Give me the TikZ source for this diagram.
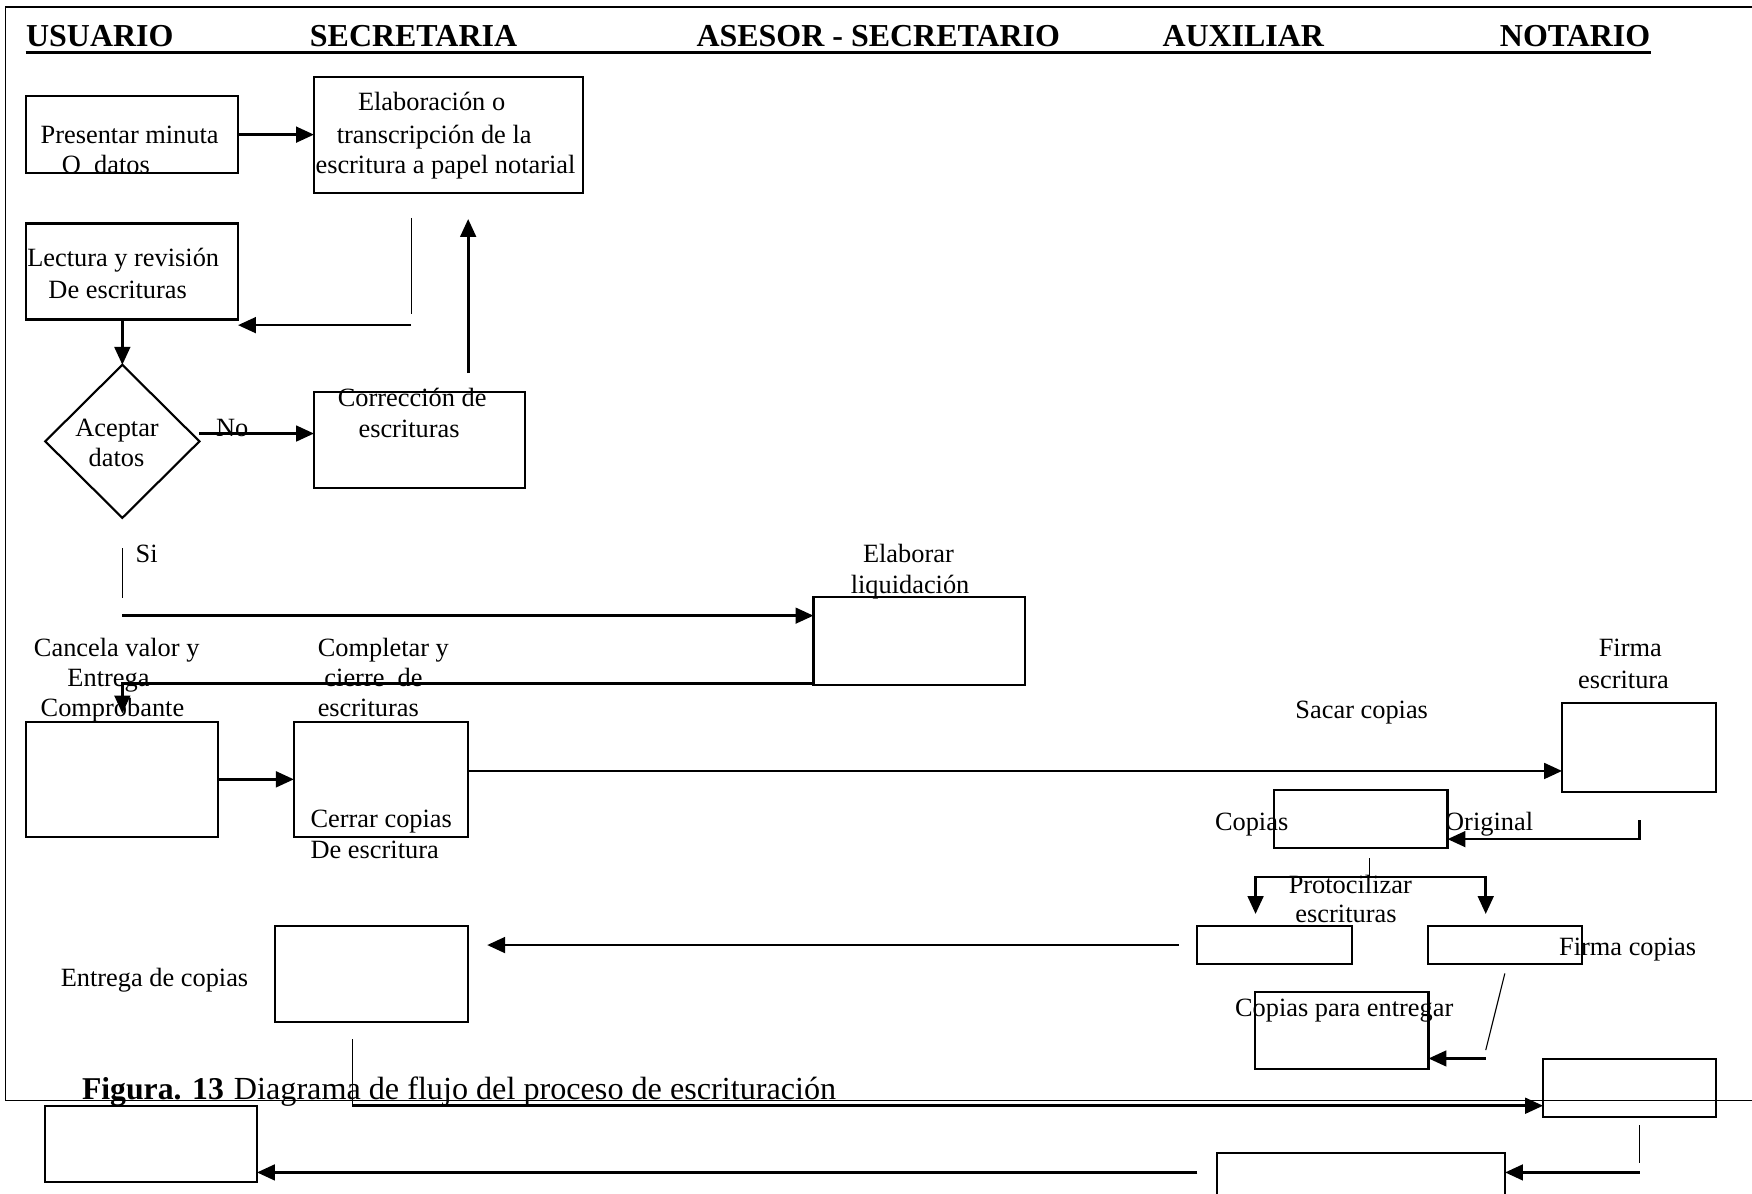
\documentclass[tikz,border=0pt]{standalone}
\usepackage{fontspec}
\setmainfont{Liberation Serif}
\usetikzlibrary{arrows.meta,shapes.geometric}

\tikzset{
  box/.style={draw, line width=0.95pt, inner sep=0pt, outer sep=0pt, anchor=north west},
  arr/.style={line width=1.2pt, -{Triangle[length=8pt,width=7pt]}},
  hair/.style={line width=0.5pt},
  frame/.style={line width=0.8pt},
  txt/.style={anchor=base west, inner sep=0pt, font=\fontsize{11.8}{14}\selectfont},
  head/.style={anchor=base west, inner sep=0pt, font=\fontsize{14.3}{16}\selectfont\bfseries},
  capb/.style={anchor=base west, inner sep=0pt, font=\fontsize{14.2}{16}\selectfont\bfseries},
  capr/.style={anchor=base west, inner sep=0pt, font=\fontsize{14.4}{16}\selectfont},
}
% box given by its top-left and bottom-right corners
\newcommand\procbox[5]{\node[box, minimum width={(#4-#2)*0.5pt}, minimum height={(#5-#3)*0.5pt}] (#1) at (#2,#3) {};}

\begin{document}
\begin{tikzpicture}[x=0.5pt,y=-0.5pt]
\useasboundingbox (0,0) rectangle (1568,1068);
\fill[white] (0,0) rectangle (1568,1068);
\clip (0,0) rectangle (1568,1068);

% page frame
\draw[frame] (1568,6) -- (5,6) -- (5,985) -- (1568,985);

% lane headings
\node[head] (hu) at (23,42) {USUARIO};
\node[head] (hs) at (277,42) {SECRETARIA};
\node[head] (ha) at (623,42) {ASESOR - SECRETARIO};
\node[head] (hx) at (1040,42) {AUXILIAR};
\node[head] (hn) at (1342,42) {NOTARIO};
\draw[line width=1.7pt] (hu.base west |- 0,47) -- (hn.base east |- 0,47);

% boxes
\procbox{b1}{23}{86}{213}{155}
\procbox{b2}{281}{69}{522}{173}
\procbox{b3}{23}{200}{213}{286}
\procbox{b4}{281}{351}{470}{437}
\procbox{b5}{728}{534}{917}{613}
\procbox{b6}{23}{646}{195}{749}
\procbox{b7}{263}{646}{419}{749}
\procbox{b8}{1398}{629}{1536}{708.5}
\procbox{b9}{1140}{707}{1295.5}{758.7}
\procbox{b10}{1071.3}{828.5}{1209.6}{863}
\procbox{b11}{1278}{828.5}{1416}{863}
\procbox{b12}{246}{828.5}{419}{915}
\procbox{b13}{1123}{887.6}{1278.5}{956.8}
\procbox{b14}{1381}{947.5}{1536}{999.5}
\procbox{b15}{1089}{1031.7}{1347}{1085}
\procbox{b16}{40.3}{989.6}{230}{1058.2}

% decision
\node[draw, diamond, line width=0.95pt, inner sep=0pt, outer sep=0pt,
      minimum width=69pt, minimum height=68.5pt] (dec) at (109.5,395) {};

% texts
\node[txt] (l1a) at (36,128) {Presentar minuta};
\node[txt] (l1b) at (55,155) {O\ \ datos};
\node[txt] (l2a) at (320,98.5) {Elaboración o};
\node[txt] (l2b) at (301,128) {transcripción de la};
\node[txt] (l2c) at (282,155) {escritura a papel notarial};
\node[txt] (l3a) at (24,238.7) {Lectura y revisión};
\node[txt] (l3b) at (43,267) {De escrituras};
\node[txt] (ld1) at (67,390.8) {Aceptar};
\node[txt] (ld2) at (79,417.7) {datos};
\node[txt] (lno) at (193,391) {No};
\node[txt] (l4a) at (302,364) {Corrección de};
\node[txt] (l4b) at (320.5,391.4) {escrituras};
\node[txt] (lsi) at (121,503.6) {Si};
\node[txt] (l5a) at (772,503.6) {Elaborar};
\node[txt] (l5b) at (761,531) {liquidación};
\node[txt] (l6a) at (30,587.7) {Cancela valor y};
\node[txt] (l6b) at (60,614.6) {Entrega};
\node[txt] (l6c) at (36,641.4) {Comprobante};
\node[txt] (l7a) at (284,587.7) {Completar y};
\node[txt] (l7b) at (290,614.6) {cierre\ \ de};
\node[txt] (l7c) at (284,641.4) {escrituras};
\node[txt] (l7d) at (277.6,741) {Cerrar copias};
\node[txt] (l7e) at (277.6,768) {De escritura};
\node[txt] (lsc) at (1159,642.6) {Sacar copias};
\node[txt] (l8a) at (1430.5,587.7) {Firma};
\node[txt] (l8b) at (1412,615.9) {escritura};
\node[txt] (l9a) at (1087,742.9) {Copias};
\node[txt] (l9b) at (1293,742.9) {Original};
\node[txt] (lpa) at (1153,799.5) {Protocilizar};
\node[txt] (lpb) at (1159,825.8) {escrituras};
\node[txt] (lfc) at (1395,854.8) {Firma copias};
\node[txt] (lec) at (54,882.5) {Entrega de copias};
\node[txt] (lce) at (1105,910) {Copias para entregar};

% caption
\node[capb] (cap1) at (73,983.9) {Figura. 13};
\node[capr] (cap2) at (209,983.9) {Diagrama de flujo del proceso de escrituración};

% connector end points
\coordinate (c1) at (368,195);
\coordinate (c2) at (368,281);
\coordinate (c3) at (368,291);
\coordinate (c4) at (419,334);
\coordinate (c5) at (419,196);
\coordinate (n0) at (178,388);
\coordinate (s1) at (109.5,490.6);
\coordinate (s2) at (109.5,535.4);
\coordinate (s3) at (109.5,551);
\coordinate (k1) at (109.5,611.5);
\coordinate (k2) at (109.5,638.5);
\coordinate (m1) at (0,690);
\coordinate (o1) at (1467.5,734);
\coordinate (o2) at (0,751);
\coordinate (q1) at (1226,768);
\coordinate (q2) at (1226,785);
\coordinate (q4) at (1123.7,818);
\coordinate (q5) at (1329.7,818);
\coordinate (t1) at (1054.8,845.8);
\coordinate (t2) at (436,845.8);
\coordinate (u1) at (315.4,930);
\coordinate (u2) at (315.4,989.6);
\coordinate (v1) at (1346.8,871.2);
\coordinate (v2) at (1329.7,939.8);
\coordinate (v3) at (1329.7,947.3);
\coordinate (w1) at (1467.6,1007);
\coordinate (w2) at (1467.6,1041.2);
\coordinate (w3) at (1467.6,1049.3);
\coordinate (w4) at (1071.5,1049.3);

% connectors
\draw[arr] (b1.east) -- (b1.east -| b2.west);
\draw[hair] (c1) -- (c2);
\draw[arr] (c3) -- (c3 -| b3.east);
\draw[arr] (c4) -- (c5);
\draw[arr] (dec.north |- b3.south) -- (dec.north);
\draw[arr] (n0) -- (n0 -| b4.west);
\draw[hair] (s1) -- (s2);
\draw[arr] (s3) -- (s3 -| b5.west);
\draw[arr] (k1 -| b5.west) -- (k1) -- (k2);
\draw[arr] (b6.east) -- (b6.east -| b7.west);
\draw[arr] (b7.east |- m1) -- (b8.west |- m1);
\draw[arr] (o1) |- (b9.east |- o2);
\draw[hair] (q1) -- (q2);
\draw[arr] (q2) -| (q4);
\draw[arr] (q2) -| (q5);
\draw[arr] (t1) -- (t2);
\draw[hair] (u1) -- (u2);
\draw[arr] (u2) -- (u2 -| b14.west);
\draw[hair] (v1) -- (v2);
\draw[arr] (v3) -- (v3 -| b13.east);
\draw[hair] (w1) -- (w2);
\draw[arr] (w3) -- (w3 -| b15.east);
\draw[arr] (w4) -- (w4 -| b16.east);
\end{tikzpicture}
\end{document}
